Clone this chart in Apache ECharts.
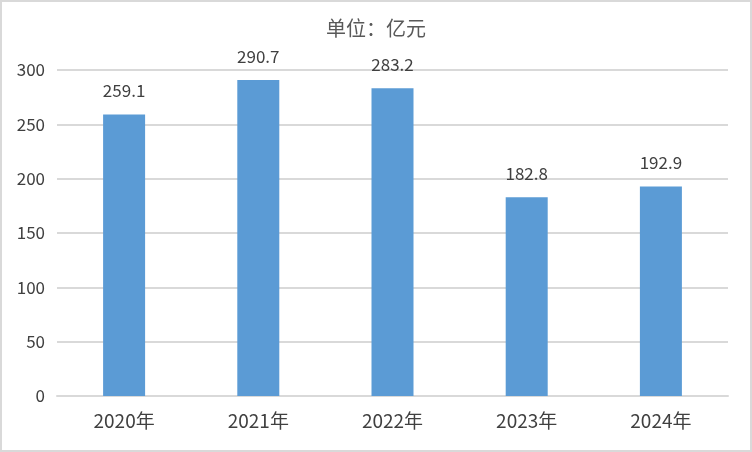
<!DOCTYPE html>
<html><head><meta charset="utf-8">
<script src="https://cdn.jsdelivr.net/npm/echarts@6/dist/echarts.min.js"></script>
<style>html,body{margin:0;padding:0;background:#fff}#c{width:752px;height:452px;box-sizing:border-box;border:2px solid #d9d9d9}</style>
</head><body><div id="c"></div>
<script>
const categories = ['2020年','2021年','2022年','2023年','2024年'];
const values = [259.1, 290.7, 283.2, 182.8, 192.9];
const titleText = '单位：亿元';
const chart = echarts.init(document.getElementById('c'));
const font = '"Noto Sans CJK SC", "Noto Sans", sans-serif';
chart.setOption({
  animation: false,
  title: { text: titleText, left: 'center', top: 11, textStyle: { fontFamily: font, fontSize: 20, fontWeight: 'normal', color: '#595959' } },
  grid: { left: 55, right: 22, top: 68, bottom: 54 },
  xAxis: { type: 'category', data: categories,
    axisLine: { lineStyle: { color: '#d9d9d9', width: 2 } }, axisTick: { show: false },
    axisLabel: { fontFamily: font, fontSize: 19, color: '#404040', margin: 15 } },
  yAxis: { type: 'value', min: 0, max: 300, interval: 50,
    axisLine: { show: false }, axisTick: { show: false },
    splitLine: { lineStyle: { color: '#d9d9d9', width: 2 } },
    axisLabel: { fontFamily: font, fontSize: 17, color: '#404040', margin: 12 } },
  series: [{ type: 'bar', data: values, barWidth: 42,
    itemStyle: { color: '#5b9bd5' },
    label: { show: true, position: 'top', distance: 15, fontFamily: font, fontSize: 17, color: '#404040' } }]
});
</script></body></html>
